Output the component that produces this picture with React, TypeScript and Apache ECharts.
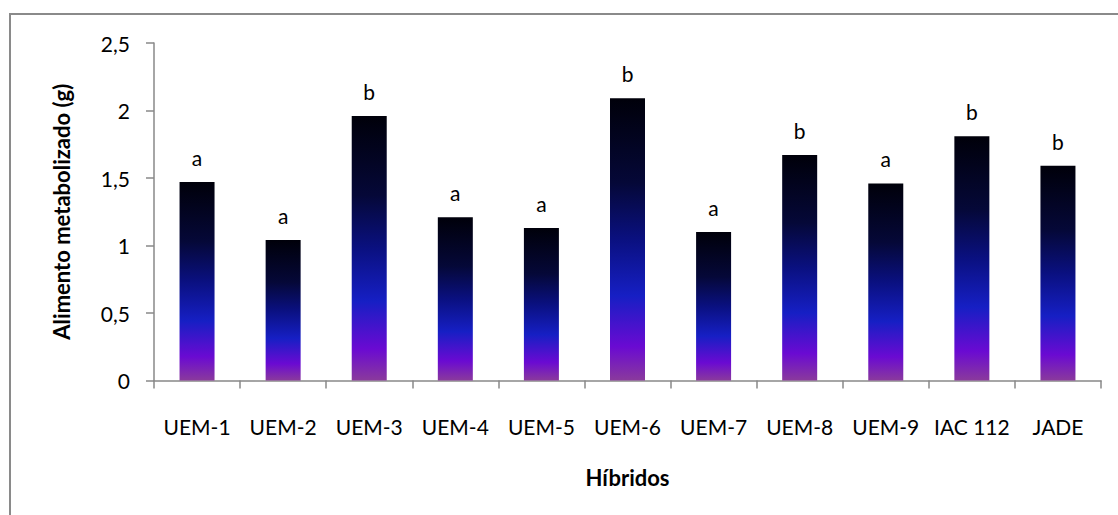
import React, { useEffect, useRef } from "react";
import * as echarts from "echarts";

const categories = ["UEM-1", "UEM-2", "UEM-3", "UEM-4", "UEM-5", "UEM-6", "UEM-7", "UEM-8", "UEM-9", "IAC 112", "JADE"];
const values = [1.47, 1.04, 1.96, 1.21, 1.13, 2.09, 1.1, 1.67, 1.46, 1.81, 1.59];
const letters = ["a", "a", "b", "a", "a", "b", "a", "b", "a", "b", "b"];

const FONT = "Lato, 'Open Sans', sans-serif";
const FS = 21;

export default function App() {
  const ref = useRef<HTMLDivElement>(null);
  useEffect(() => {
    if (!ref.current) return;
    const chart = echarts.init(ref.current, null, { renderer: "svg" });
    const grad = new echarts.graphic.LinearGradient(0, 0, 0, 1, [
      { offset: 0, color: "#00000a" },
      { offset: 0.3, color: "#050838" },
      { offset: 0.5, color: "#0a1080" },
      { offset: 0.7, color: "#161fc4" },
      { offset: 0.88, color: "#6a0ad2" },
      { offset: 1, color: "#8a3a9c" },
    ]);
    chart.setOption({
      animation: false,
      backgroundColor: "#ffffff",
      graphic: [
        {
          type: "rect",
          shape: { x: 10, y: 14, width: 1200, height: 600 },
          style: { fill: "none", stroke: "#8a8a8a", lineWidth: 2 },
          silent: true,
          z: -1,
        },
      ],
      grid: { left: 154, right: 17, top: 43, bottom: 134.5 },
      xAxis: {
        type: "category",
        data: categories,
        name: "Híbridos",
        nameLocation: "middle",
        nameGap: 86,
        nameTextStyle: { fontFamily: FONT, fontSize: 22, fontWeight: "bold", color: "#000" },
        axisLine: { lineStyle: { color: "#888888", width: 1.5 } },
        axisTick: { show: true, length: 8, alignWithLabel: false, lineStyle: { color: "#888888", width: 1.5 } },
        axisLabel: { fontFamily: FONT, fontSize: FS, color: "#000", margin: 35, interval: 0 },
      },
      yAxis: {
        type: "value",
        min: 0,
        max: 2.5,
        interval: 0.5,
        name: "Alimento metabolizado (g)",
        nameLocation: "middle",
        nameGap: 82,
        nameTextStyle: { fontFamily: FONT, fontSize: 22, fontWeight: "bold", color: "#000" },
        axisLine: { show: true, lineStyle: { color: "#888888", width: 1.5 } },
        axisTick: { show: true, length: 8, lineStyle: { color: "#888888", width: 1.5 } },
        splitLine: { show: false },
        axisLabel: {
          fontFamily: FONT,
          fontSize: FS,
          color: "#000",
          margin: 24,
          formatter: (v: number) => String(v).replace(".", ","),
        },
      },
      series: [
        {
          type: "bar",
          data: values,
          barWidth: 35,
          itemStyle: { color: grad },
          label: {
            show: true,
            position: "top",
            distance: 14,
            fontFamily: FONT,
            fontSize: FS,
            color: "#000",
            formatter: (p: any) => letters[p.dataIndex],
          },
        },
      ],
    });
    return () => chart.dispose();
  }, []);
  return (
    <div
      ref={ref}
      style={{ position: "fixed", left: 0, top: 0, width: 1118, height: 515, background: "#fff" }}
    />
  );
}
